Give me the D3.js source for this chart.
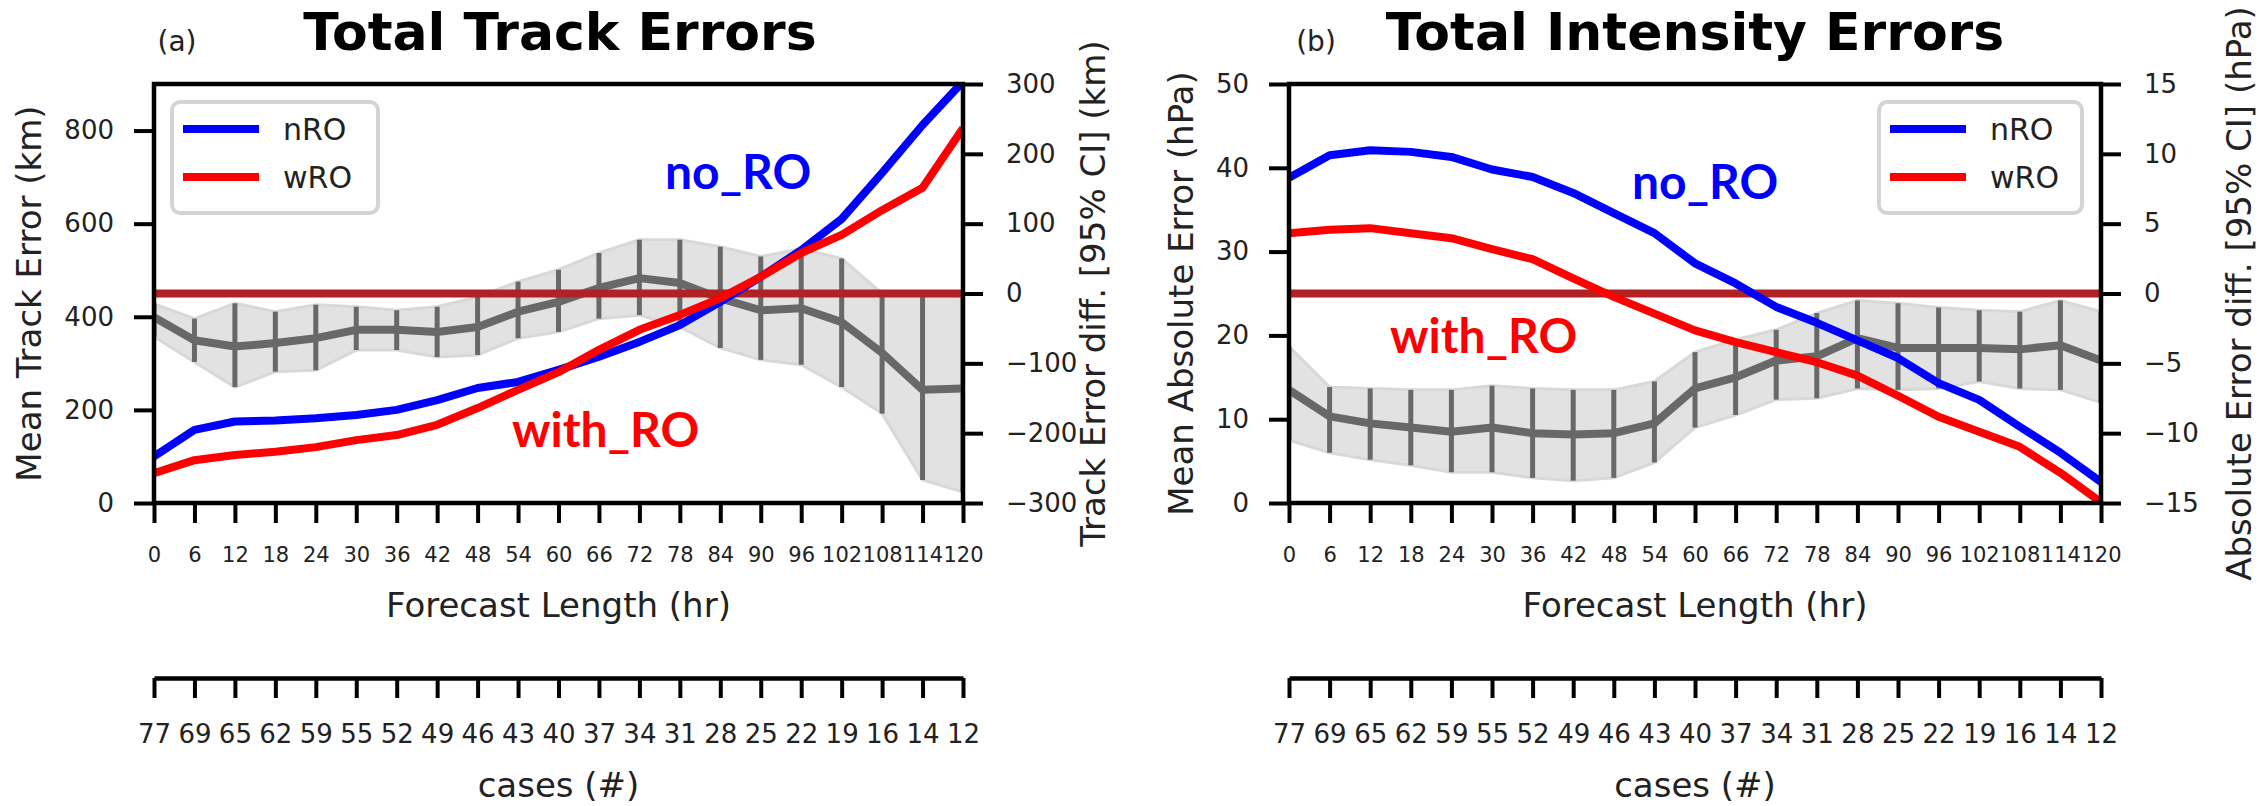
<!DOCTYPE html>
<html>
<head>
<meta charset="utf-8">
<script src="https://cdn.jsdelivr.net/npm/d3@7"></script>
<style>
  body { margin: 0; background: #fff; }
  svg text { font-family: "DejaVu Sans", sans-serif; fill: #222; }
</style>
</head>
<body>
<div id="chart-area"></div>
<script>
const W = 2265, H = 806;

// ---------------- DATA
const hours = [0, 6, 12, 18, 24, 30, 36, 42, 48, 54, 60, 66, 72, 78, 84, 90, 96, 102, 108, 114, 120];
const cases = [77, 69, 65, 62, 59, 55, 52, 49, 46, 43, 40, 37, 34, 31, 28, 25, 22, 19, 16, 14, 12];

// (a) track errors (km)
const trackNRO = [100, 157, 175, 177, 182, 189, 200, 221, 247, 260, 286, 314, 346, 382, 432, 486, 543, 610, 709, 812, 905];
const trackWRO = [64, 92, 103, 110, 120, 135, 146, 168, 204, 243, 281, 329, 372, 404, 440, 486, 537, 576, 629, 677, 805];
const trackDiff = [-34, -67, -76, -71, -64, -52, -52, -55, -48, -26, -12, 8, 22, 15, -7, -24, -21, -41, -85, -138, -136];
const trackLo = [-62, -98, -134, -112, -110, -81, -81, -91, -88, -64, -55, -36, -31, -48, -78, -95, -102, -134, -172, -267, -284];
const trackHi = [-15, -36, -14, -26, -16, -19, -24, -19, -5, 17, 34, 58, 77, 77, 67, 53, 64, 50, 0, 0, -5];

// (b) intensity errors (hPa)
const intNRO = [38.8, 41.5, 42.1, 41.9, 41.3, 39.8, 38.9, 37.0, 34.6, 32.2, 28.6, 26.2, 23.4, 21.5, 19.4, 17.3, 14.3, 12.3, 9.1, 6.0, 2.5];
const intWRO = [32.2, 32.6, 32.8, 32.2, 31.6, 30.3, 29.1, 26.8, 24.6, 22.6, 20.6, 19.2, 18.0, 16.8, 15.2, 12.8, 10.3, 8.5, 6.7, 3.6, 0.1];
const intDiff = [-6.9, -8.8, -9.3, -9.6, -9.9, -9.6, -10.0, -10.1, -10.0, -9.3, -6.8, -6.0, -4.8, -4.5, -3.2, -3.9, -3.9, -3.9, -4.0, -3.7, -4.8];
const intLo = [-10.5, -11.4, -11.9, -12.3, -12.8, -12.8, -13.2, -13.4, -13.2, -12.1, -9.6, -8.7, -7.6, -7.5, -6.8, -6.9, -6.8, -6.3, -6.8, -6.9, -7.8];
const intHi = [-3.8, -6.7, -6.8, -6.9, -6.9, -6.6, -6.8, -6.9, -6.9, -6.3, -4.2, -3.3, -2.6, -1.4, -0.5, -0.7, -1.0, -1.2, -1.3, -0.5, -1.3];

const seriesNames = ["nRO", "wRO"];
const seriesColors = ["#0000ff", "#ff0000"];

const panels = [
  {
    tag: "(a)", title: "Total Track Errors",
    left: 154, right: 963, tagX: 177, titleX: 560,
    yDomain: [0, 900], yTicks: [0, 200, 400, 600, 800],
    y2Domain: [-300, 300], y2Ticks: [-300, -200, -100, 0, 100, 200, 300],
    yLabel: "Mean Track Error (km)", yLabelX: 29,
    y2Label: "Track Error diff. [95% CI] (km)", y2LabelX: 1093,
    nro: trackNRO, wro: trackWRO, diff: trackDiff, lo: trackLo, hi: trackHi,
    legend: {x: 172, w: 206},
    notes: [{text: "no_RO", x: 665, y: 189, color: "#0000ff"}, {text: "with_RO", x: 512, y: 447, color: "#ff0000"}]
  },
  {
    tag: "(b)", title: "Total Intensity Errors",
    left: 1289, right: 2101, tagX: 1316, titleX: 1695,
    yDomain: [0, 50], yTicks: [0, 10, 20, 30, 40, 50],
    y2Domain: [-15, 15], y2Ticks: [-15, -10, -5, 0, 5, 10, 15],
    yLabel: "Mean Absolute Error (hPa)", yLabelX: 1181,
    y2Label: "Absolute Error diff. [95% CI] (hPa)", y2LabelX: 2239,
    nro: intNRO, wro: intWRO, diff: intDiff, lo: intLo, hi: intHi,
    legend: {x: 1879, w: 203},
    notes: [{text: "no_RO", x: 1632, y: 199, color: "#0000ff"}, {text: "with_RO", x: 1390, y: 353, color: "#ff0000"}]
  }
];

const plotTop = 84, plotBottom = 503, casesY = 678;
const tickLen = 20;

const svg = d3.select("#chart-area")
  .append("svg")
    .attr("width", W)
    .attr("height", H)
    .attr("viewBox", [0, 0, W, H]);

svg.append("rect").attr("width", W).attr("height", H).attr("fill", "#fff");

const fmt = d3.format("");

panels.forEach((p, i) => {
  const g = svg.append("g").attr("class", "panel");

  const x = d3.scaleLinear().domain([0, 120]).range([p.left, p.right]);
  const y = d3.scaleLinear().domain(p.yDomain).range([plotBottom, plotTop]);
  const y2 = d3.scaleLinear().domain(p.y2Domain).range([plotBottom, plotTop]);

  const clipId = "clip" + i;
  svg.append("clipPath").attr("id", clipId)
    .append("rect")
      .attr("x", p.left).attr("y", plotTop)
      .attr("width", p.right - p.left).attr("height", plotBottom - plotTop);

  const plot = g.append("g").attr("clip-path", `url(#${clipId})`);

  // CI band
  const band = d3.area()
    .x((d, j) => x(hours[j]))
    .y0((d, j) => y2(p.lo[j]))
    .y1((d, j) => y2(p.hi[j]));
  plot.append("path")
    .datum(hours)
    .attr("d", band)
    .attr("fill", "#e2e2e2")
    .attr("stroke", "#d8d8d8")
    .attr("stroke-width", 3);

  // error bars
  plot.selectAll("line.err")
    .data(hours)
    .join("line")
      .attr("class", "err")
      .attr("x1", d => x(d)).attr("x2", d => x(d))
      .attr("y1", (d, j) => y2(p.lo[j]))
      .attr("y2", (d, j) => y2(p.hi[j]))
      .attr("stroke", "#686868")
      .attr("stroke-width", 5);

  // mean diff
  plot.append("path")
    .datum(p.diff)
    .attr("d", d3.line().x((d, j) => x(hours[j])).y(d => y2(d)))
    .attr("fill", "none")
    .attr("stroke", "#686868")
    .attr("stroke-width", 8)
    .attr("stroke-linejoin", "round");

  // zero line
  plot.append("line")
    .attr("x1", p.left).attr("x2", p.right)
    .attr("y1", y2(0)).attr("y2", y2(0))
    .attr("stroke", "#b22222")
    .attr("stroke-width", 8);

  // error curves
  [p.nro, p.wro].forEach((vals, k) => {
    plot.append("path")
      .datum(vals)
      .attr("d", d3.line().x((d, j) => x(hours[j])).y(d => y(d)))
      .attr("fill", "none")
      .attr("stroke", seriesColors[k])
      .attr("stroke-width", 8)
      .attr("stroke-linejoin", "round");
  });

  // frame
  g.append("rect")
    .attr("x", p.left).attr("y", plotTop)
    .attr("width", p.right - p.left).attr("height", plotBottom - plotTop)
    .attr("fill", "none")
    .attr("stroke", "#000")
    .attr("stroke-width", 4.5);

  // axes
  const xAxis = g.append("g")
    .attr("transform", `translate(0,${plotBottom})`)
    .call(d3.axisBottom(x).tickValues(hours).tickFormat(fmt).tickSize(tickLen).tickSizeOuter(0).tickPadding(24));
  xAxis.selectAll("text").attr("font-size", 21);

  const yAxis = g.append("g")
    .attr("transform", `translate(${p.left},0)`)
    .call(d3.axisLeft(y).tickValues(p.yTicks).tickFormat(fmt).tickSize(tickLen).tickSizeOuter(0).tickPadding(20));
  yAxis.selectAll("text").attr("font-size", 26);

  const y2Axis = g.append("g")
    .attr("transform", `translate(${p.right},0)`)
    .call(d3.axisRight(y2).tickValues(p.y2Ticks).tickFormat(fmt).tickSize(tickLen).tickSizeOuter(0).tickPadding(23));
  y2Axis.selectAll("text").attr("font-size", 26)
    .text(d => d < 0 ? "\u2212" + Math.abs(d) : d);

  const cAxis = g.append("g")
    .attr("transform", `translate(0,${casesY})`)
    .call(d3.axisBottom(x).tickValues(hours).tickFormat((d, j) => cases[j]).tickSize(tickLen).tickSizeOuter(0).tickPadding(27));
  cAxis.selectAll("text").attr("font-size", 26);

  [xAxis, yAxis, y2Axis, cAxis].forEach(a => {
    a.selectAll("path.domain").attr("stroke", "#000").attr("stroke-width", 4.5);
    a.selectAll(".tick line").attr("stroke", "#000").attr("stroke-width", 4);
    a.selectAll("text").attr("fill", "#222").attr("font-family", "DejaVu Sans");
  });
  xAxis.select("path.domain").remove();
  yAxis.select("path.domain").remove();
  y2Axis.select("path.domain").remove();

  // labels
  const midX = (p.left + p.right) / 2, midY = (plotTop + plotBottom) / 2;
  g.append("text").attr("x", midX).attr("y", 617)
    .attr("text-anchor", "middle").attr("font-size", 34).text("Forecast Length (hr)");
  g.append("text").attr("x", midX).attr("y", 797)
    .attr("text-anchor", "middle").attr("font-size", 34).text("cases (#)");
  g.append("text")
    .attr("transform", `translate(${p.yLabelX},${midY}) rotate(-90)`)
    .attr("dy", "0.35em")
    .attr("text-anchor", "middle").attr("font-size", 34).text(p.yLabel);
  g.append("text")
    .attr("transform", `translate(${p.y2LabelX},${midY}) rotate(-90)`)
    .attr("dy", "0.35em")
    .attr("text-anchor", "middle").attr("font-size", 34).text(p.y2Label);

  // titles
  g.append("text").attr("x", p.tagX).attr("y", 51)
    .attr("text-anchor", "middle").attr("font-size", 28).text(p.tag);
  g.append("text").attr("x", p.titleX).attr("y", 50)
    .attr("text-anchor", "middle").attr("font-size", 52).attr("font-weight", "bold")
    .style("fill", "#000").text(p.title);

  // legend
  const lg = g.append("g");
  lg.append("rect")
    .attr("x", p.legend.x).attr("y", 102)
    .attr("width", p.legend.w).attr("height", 111)
    .attr("rx", 8)
    .attr("fill", "#fff").attr("fill-opacity", 0.85)
    .attr("stroke", "#d4d4d4").attr("stroke-width", 4);
  seriesNames.forEach((name, k) => {
    const ly = 129 + k * 48;
    lg.append("line")
      .attr("x1", p.legend.x + 11).attr("x2", p.legend.x + 87)
      .attr("y1", ly).attr("y2", ly)
      .attr("stroke", seriesColors[k]).attr("stroke-width", 8);
    lg.append("text")
      .attr("x", p.legend.x + 111).attr("y", ly)
      .attr("dy", "0.35em").attr("font-size", 30).text(name);
  });

  // annotations
  p.notes.forEach(n => {
    g.append("text")
      .attr("x", n.x).attr("y", n.y)
      .attr("font-weight", "bold")
      .attr("font-size", 48)
      .style("fill", n.color)
      .style("font-family", "Lato")
      .text(n.text);
  });
});
</script>
</body>
</html>
